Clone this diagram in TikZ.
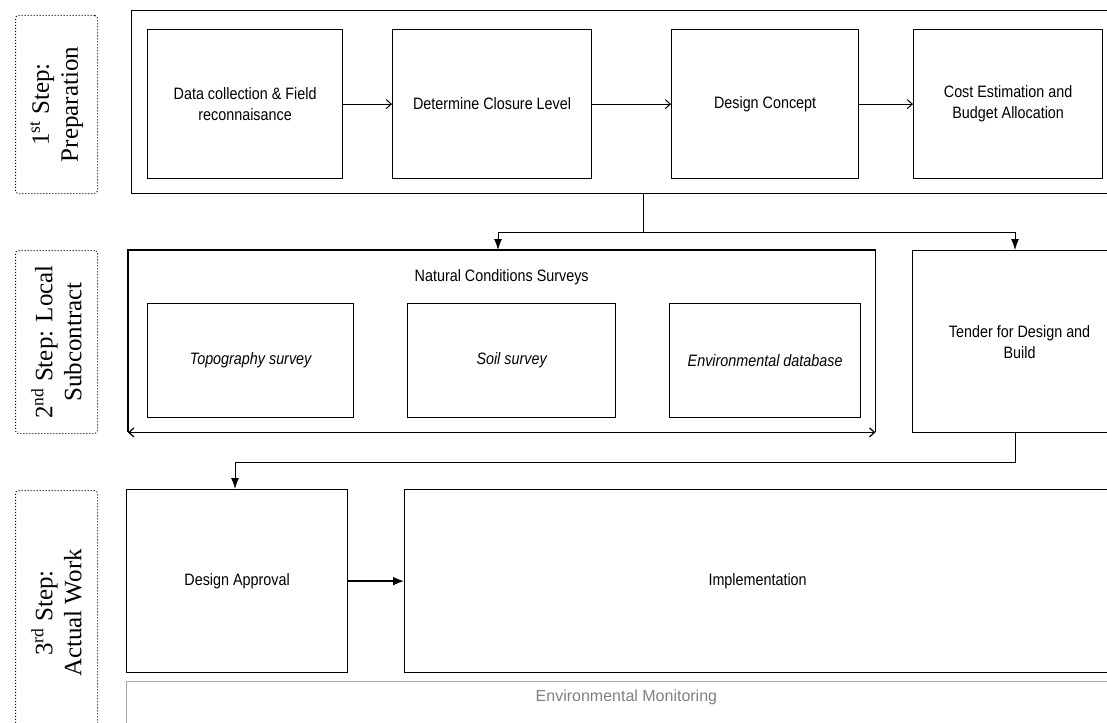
\documentclass[tikz,border=0pt]{standalone}
\usepackage{fontspec}
\setmainfont{Liberation Sans}
\newfontfamily\narrowsans[FakeStretch=0.87]{Liberation Sans}
\newfontfamily\serifface{Liberation Serif}
\usetikzlibrary{arrows.meta}
\begin{document}
\begin{tikzpicture}[x=1pt,y=-1pt,
  box/.style={draw, line width=1.2pt, inner sep=0pt, align=center,
              font=\narrowsans\fontsize{16.5}{21}\selectfont},
  steplbl/.style={draw, dotted, line width=1pt, rounded corners=3pt, inner sep=0pt},
  steptext/.style={rotate=90, align=center, font=\serifface\fontsize{25}{29}\selectfont},
  plain/.style={font=\narrowsans\fontsize{16.5}{21}\selectfont},
  open/.style={line width=1pt, -{Straight Barb[length=5pt,width=9pt]}},
  filled/.style={line width=1pt, -{Latex[length=11pt,width=8pt]}}]
\useasboundingbox (0,0) rectangle (1107,722);
\clip (0,0) rectangle (1107,722);

% step labels
\node[steplbl, anchor=north west, minimum width=82, minimum height=178] (l1) at (15,15) {};
\node[steptext] (t1) at (l1.center) {1\textsuperscript{st} Step:\\Preparation};
\node[steplbl, anchor=north west, minimum width=82, minimum height=183] (l2) at (15,250) {};
\node[steptext] (t2) at (l2.center) {2\textsuperscript{nd} Step: Local\\Subcontract};
\node[steplbl, anchor=north west, minimum width=82, minimum height=245] (l3) at (15,490) {};
\node[steptext] (t3) at (l3.center) {3\textsuperscript{rd} Step:\\Actual Work};

% row 1
\node[box, anchor=north west, minimum width=1000, minimum height=183] (prep) at (131,10) {};
\node[box, anchor=north west, minimum width=195, minimum height=149] (a) at (147,29) {Data collection \& Field\\reconnaisance};
\node[box, anchor=north west, minimum width=199, minimum height=149] (b) at (392,29) {Determine Closure Level};
\node[box, anchor=north west, minimum width=187, minimum height=149] (c) at (671,29) {Design Concept};
\node[box, anchor=north west, minimum width=189, minimum height=149] (d) at (913,29) {Cost Estimation and\\Budget Allocation};
\draw[open] (a) -- (b);
\draw[open] (b) -- (c);
\draw[open] (c) -- (d);

% row 2
\node[anchor=north west, minimum width=747, minimum height=182, inner sep=0pt] (ncs) at (128,250) {};
\draw[line width=1.2pt] (ncs.south west) -- (ncs.north west) -- (ncs.north east) -- (ncs.south east);
\draw[line width=1.2pt, {Straight Barb[length=5pt,width=9pt]}-{Straight Barb[length=5pt,width=9pt]}] (ncs.south west) -- (ncs.south east);
\node[plain] (ncsT) at (ncs.north |- 0,277) {Natural Conditions Surveys};
\node[box, anchor=north west, minimum width=206, minimum height=114] (topo) at (147,303) {\itshape Topography survey};
\node[box, anchor=north west, minimum width=208, minimum height=114] (soil) at (407,303) {\itshape Soil survey};
\node[box, anchor=north west, minimum width=191, minimum height=114] (envdb) at (669,303) {\itshape Environmental database};
\node[box, anchor=north west, minimum width=214, minimum height=182] (tender) at (912,250) {Tender for Design and\\Build};

% split connector
\coordinate (split) at (643,232);
\coordinate (ncsIn) at (498,250);
\coordinate (tenIn) at (1015,250);
\draw[line width=1pt] (split |- prep.south) -- (split);
\draw[filled] (split) -| (ncsIn);
\draw[filled] (split) -| (tenIn);

% row 3
\node[box, anchor=north west, minimum width=221, minimum height=183] (da) at (126,489) {Design Approval};
\node[box, anchor=north west, minimum width=706, minimum height=183] (impl) at (404,489) {Implementation};
\coordinate (tOut) at (1015,432);
\coordinate (daIn) at (235,489);
\draw[filled] (tOut) -- ++(0,30) -| (daIn);
\draw[line width=1.6pt, -{Latex[length=11pt,width=9pt]}] (da) -- (impl);

\node[draw=gray!70, line width=0.8pt, anchor=north west, minimum width=1000, minimum height=100, inner sep=0pt] (env) at (126,681) {};
\node[text=gray, font=\fontsize{16}{20}\selectfont] (envT) at ([yshift=-16]env.north) {Environmental Monitoring};
\end{tikzpicture}
\end{document}
